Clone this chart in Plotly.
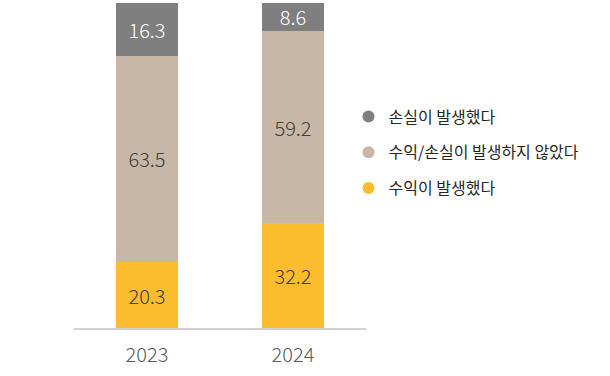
import plotly.graph_objects as go

years = ["2023", "2024"]
series_names = ["수익이 발생했다", "수익/손실이 발생하지 않았다", "손실이 발생했다"]
profit = [20.3, 32.2]
neutral = [63.5, 59.2]
loss = [16.3, 8.6]
values = [profit, neutral, loss]
colors = ["#FBBC2D", "#C8B7A6", "#7F7F7F"]
text_colors = ["#404040", "#404040", "#FFFFFF"]

FONT = "Noto Sans CJK KR"

fig = go.Figure()
for name, vals, col, tcol in zip(series_names, values, colors, text_colors):
    fig.add_trace(go.Bar(
        x=years, y=vals, name=name,
        marker=dict(color=col, line=dict(width=0)),
        texttemplate="%{y:.1f}", textposition="inside", textangle=0,
        insidetextanchor="middle", constraintext="none",
        textfont=dict(family=FONT, size=20, color=tcol, weight=300),
        showlegend=False, hoverinfo="skip",
    ))

# legend entries with circular markers (top to bottom: loss, neutral, profit)
for name, col in reversed(list(zip(series_names, colors))):
    fig.add_trace(go.Scatter(
        x=[None], y=[None], mode="markers", name=name,
        marker=dict(symbol="circle", size=14, color=col),
        legendgroup=name, showlegend=True,
    ))

fig.update_layout(
    width=610, height=376,
    margin=dict(l=74, r=244, t=3, b=48),
    barmode="stack", bargap=0.57,
    plot_bgcolor="white", paper_bgcolor="white",
    font=dict(family=FONT, color="#404040"),
    legend=dict(
        x=0.94, xanchor="left", y=0.54, yanchor="middle",
        traceorder="grouped", tracegroupgap=12,
        font=dict(family=FONT, size=16, color="#262626"),
        bgcolor="rgba(0,0,0,0)", itemsizing="constant",
    ),
    xaxis=dict(
        type="category", range=[-0.5, 1.5],
        showline=True, linecolor="#D0D0D0", linewidth=1.5,
        ticks="", ticklabelstandoff=8,
        tickfont=dict(family=FONT, size=20, color="#595959", weight=300),
        showgrid=False, zeroline=False,
    ),
    yaxis=dict(range=[0, 100], visible=False, showgrid=False, zeroline=False),
)

fig.write_html("out.html", config={"displayModeBar": False},
               post_script="document.body.style.margin='0px';")
